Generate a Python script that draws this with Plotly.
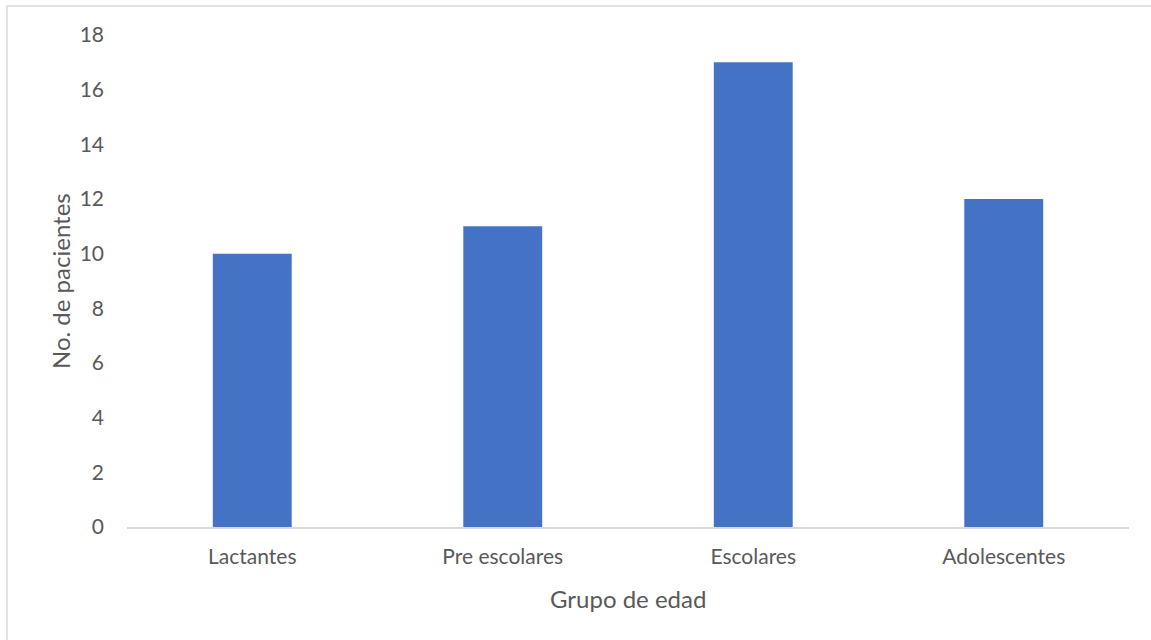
import plotly.graph_objects as go

categories = ["Lactantes", "Pre escolares", "Escolares", "Adolescentes"]
values = [10, 11, 17, 12]
y_ticks = [0, 2, 4, 6, 8, 10, 12, 14, 16, 18]

W, H = 1151, 640
L, R, T, B = 127, 22, 35, 113
pw = W - L - R
ph = H - T - B

font_family = "Lato, 'Open Sans', sans-serif"
txt = "#595959"

fig = go.Figure(go.Bar(x=categories, y=values, marker=dict(color="#4472C4", line=dict(width=0))))

fig.update_layout(
    width=W, height=H,
    margin=dict(l=L, r=R, t=T, b=B, autoexpand=False),
    paper_bgcolor="white", plot_bgcolor="white",
    bargap=0.685,
    showlegend=False,
    font=dict(family=font_family, color=txt, size=21),
)
fig.update_xaxes(
    showline=True, linecolor="#D9D9D9", linewidth=1.5,
    showgrid=False, ticks="", ticklabelstandoff=10,
    tickfont=dict(size=21, color=txt),
)
fig.update_yaxes(
    range=[0, 18], tickvals=y_ticks, showgrid=False, zeroline=False,
    showline=False, ticks="", ticklabelstandoff=22,
    tickfont=dict(size=21, color=txt),
)

def px2x(px):
    return (px - L) / pw

def px2y(py):
    return (H - B - py) / ph

fig.add_shape(type="rect", xref="paper", yref="paper",
              x0=px2x(7), x1=px2x(W + 20), y0=px2y(H + 20), y1=px2y(6),
              line=dict(color="#D9D9D9", width=1.5), fillcolor="rgba(0,0,0,0)", layer="below")

fig.add_annotation(text="Grupo de edad", xref="paper", yref="paper",
                   x=0.5, y=px2y(598), showarrow=False, xanchor="center", yanchor="middle",
                   font=dict(size=24, color=txt))
fig.add_annotation(text="No. de pacientes", xref="paper", yref="paper",
                   x=px2x(60), y=0.5, showarrow=False, textangle=-90, xanchor="center", yanchor="middle",
                   font=dict(size=24, color=txt))

fig.write_html("out.html")
